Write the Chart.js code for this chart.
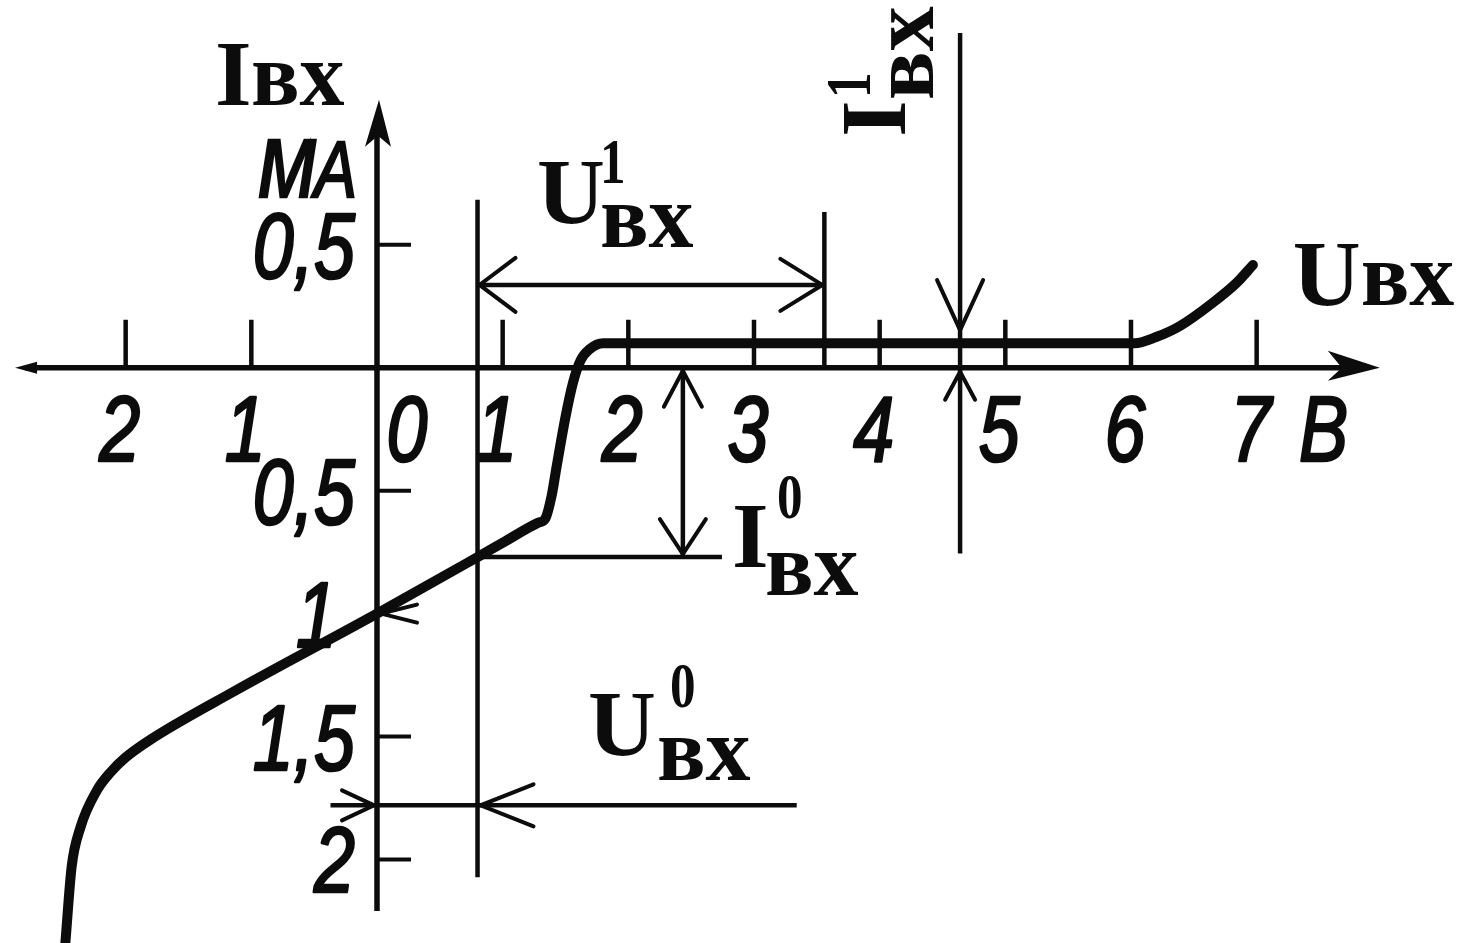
<!DOCTYPE html>
<html>
<head>
<meta charset="utf-8">
<script src="https://cdn.jsdelivr.net/npm/chart.js@4.4.1/dist/chart.umd.min.js"></script>
<style>
  html, body { margin: 0; padding: 0; background: #ffffff; }
  #wrap { width: 1464px; height: 943px; position: relative; }
</style>
</head>
<body>
<div id="wrap"><canvas id="chart"></canvas></div>
<script>
// Input characteristic of a TTL gate: input current Iвх (mA) against input voltage Uвх (V)
const inputVoltage = [-2.48, -2.43, -2.36, -2.23, -2.12, -2.00, -1.81, -1.15, 0.00, 0.80, 1.03, 1.28, 1.34, 1.39, 1.43, 1.50, 1.56, 1.62, 1.69, 1.80, 3.00, 4.64, 6.03, 6.20, 6.39, 6.65, 6.84, 6.97];
const inputCurrent = [-2.34, -2.03, -1.87, -1.72, -1.645, -1.585, -1.515, -1.32, -1.00, -0.77, -0.703, -0.631, -0.613, -0.52, -0.40, -0.20, -0.06, 0.03, 0.075, 0.10, 0.10, 0.10, 0.10, 0.125, 0.17, 0.264, 0.345, 0.418];

// Axis ticks and their printed labels (magnitudes only, as on the drawing)
const xTickValues = [-2, -1, 0, 1, 2, 3, 4, 5, 6, 7];
const xTickLabels = ['2', '1', '0', '1', '2', '3', '4', '5', '6', '7'];
const yTickValues = [0.5, -0.5, -1.5, -2];
const yLabelValues = [0.5, -0.5, -1, -1.5, -2];
const yLabelTexts = ['0,5', '0,5', '1', '1,5', '2'];

// Characteristic levels marked by the dimension lines
const levelVoltages = [0.8, 3.56, 4.64];   // U⁰вх, upper end of U¹вх, point where I¹вх is read
const levelCurrents = [-0.77, 0.10];       // I⁰вх, I¹вх

const U0 = levelVoltages[0], U1 = levelVoltages[1], UI1 = levelVoltages[2];
const I0 = levelCurrents[0], I1 = levelCurrents[1];

// Layout of the dimension lines (in axis units)
const guide = {
  u1LineI: 0.337,        // height of the U¹вх dimension line
  u0LineI: -1.78,        // height of the U⁰вх dimension line
  i0ArrowU: 2.434,       // where the I⁰вх arrow stands
  u0LineEnd: 3.34,
  i0LineEnd: 2.745,
  vU0Top: 0.683, vU0Bottom: -2.073,
  vU1Top: 0.634,
  vI1Top: 1.362, vI1Bottom: -0.756,
  u0StubStart: -0.37
};

const seg = (a, b) => [{ x: a[0], y: a[1] }, { x: b[0], y: b[1] }];
const guideLines = [
  seg([U0, guide.vU0Top], [U0, guide.vU0Bottom]),
  seg([U1, guide.vU1Top], [U1, 0]),
  seg([UI1, guide.vI1Top], [UI1, guide.vI1Bottom]),
  seg([U0, guide.u1LineI], [U1, guide.u1LineI]),
  seg([U0, I0], [guide.i0LineEnd, I0]),
  seg([guide.i0ArrowU, 0], [guide.i0ArrowU, I0]),
  seg([0, guide.u0LineI], [guide.u0LineEnd, guide.u0LineI]),
  seg([guide.u0StubStart, guide.u0LineI], [0, guide.u0LineI])
];

const INK = '#0c0c0c';
const numFont = (size) => `italic ${size}px 'Liberation Sans', 'DejaVu Sans', sans-serif`;
const serif = (size) => `bold ${size}px 'Liberation Serif', 'DejaVu Serif', serif`;

function openArrow(ctx, x, y, angle, len, spread, width) {
  const bx = -Math.cos(angle), by = -Math.sin(angle);
  const nx = -Math.sin(angle), ny = Math.cos(angle);
  ctx.save();
  ctx.strokeStyle = INK;
  ctx.lineWidth = width || 4;
  ctx.lineCap = 'round';
  ctx.beginPath();
  ctx.moveTo(x + len * bx + spread * nx, y + len * by + spread * ny);
  ctx.lineTo(x, y);
  ctx.lineTo(x + len * bx - spread * nx, y + len * by - spread * ny);
  ctx.stroke();
  ctx.restore();
}

// hand-lettered looking numerals: condensed italic with a slightly heavier stroke
function italicText(ctx, text, x, y, size, align) {
  ctx.save();
  ctx.translate(x, y);
  ctx.scale(0.8, 1);
  ctx.font = numFont(size);
  ctx.textAlign = align || 'center';
  ctx.textBaseline = 'alphabetic';
  ctx.fillStyle = INK;
  ctx.strokeStyle = INK;
  ctx.lineWidth = 2.6;
  ctx.lineJoin = 'round';
  ctx.fillText(text, 0, 0);
  ctx.strokeText(text, 0, 0);
  ctx.restore();
}

// main letter with optional superscript index and subscript "вх"
function symbol(ctx, x, y, s) {
  ctx.save();
  ctx.translate(x, y);
  if (s.rotate) ctx.rotate(s.rotate);
  ctx.fillStyle = INK;
  ctx.textAlign = 'left';
  ctx.textBaseline = 'alphabetic';
  ctx.font = serif(94);
  ctx.fillText(s.main, 0, 0);
  if (s.sup) {
    ctx.save();
    ctx.translate(s.supDx, s.supDy);
    ctx.scale(0.8, 1);
    ctx.font = serif(64);
    ctx.fillText(s.sup, 0, 0);
    ctx.restore();
  }
  ctx.font = serif(90);
  ctx.fillText(s.sub, s.subDx, s.subDy);
  ctx.restore();
}

const diagram = {
  id: 'diagram',
  beforeDatasetsDraw(chart) {
    const ctx = chart.ctx;
    const xs = chart.scales.x, ys = chart.scales.y;
    const X = (v) => xs.getPixelForValue(v), Y = (v) => ys.getPixelForValue(v);
    const x0 = X(0), y0 = Y(0);
    ctx.save();
    ctx.strokeStyle = INK;
    ctx.fillStyle = INK;
    ctx.lineCap = 'butt';

    // horizontal axis
    const xLeft = X(-2.88), xRight = X(7.98);
    ctx.lineWidth = 5.5;
    ctx.beginPath();
    ctx.moveTo(xLeft + 10, y0);
    ctx.lineTo(xRight - 30, y0);
    ctx.stroke();
    ctx.beginPath();
    ctx.moveTo(xRight, y0);
    ctx.lineTo(xRight - 52, y0 - 17);
    ctx.lineTo(xRight - 38, y0);
    ctx.lineTo(xRight - 52, y0 + 13);
    ctx.closePath();
    ctx.fill();
    ctx.beginPath();
    ctx.moveTo(xLeft, y0);
    ctx.lineTo(xLeft + 22, y0 - 6);
    ctx.lineTo(xLeft + 22, y0 + 6);
    ctx.closePath();
    ctx.fill();

    // vertical axis
    const yTop = Y(1.09), yBottom = Y(-2.21);
    ctx.lineWidth = 5.5;
    ctx.beginPath();
    ctx.moveTo(x0, yBottom);
    ctx.lineTo(x0, yTop + 30);
    ctx.stroke();
    ctx.beginPath();
    ctx.moveTo(x0 + 2, yTop);
    ctx.lineTo(x0 + 14, yTop + 47);
    ctx.lineTo(x0 + 1, yTop + 36);
    ctx.lineTo(x0 - 12, yTop + 47);
    ctx.closePath();
    ctx.fill();

    // tick marks
    ctx.lineWidth = 4.5;
    xTickValues.forEach((v) => {
      if (v === 0) return;
      ctx.beginPath();
      ctx.moveTo(X(v), y0);
      ctx.lineTo(X(v), y0 - 48);
      ctx.stroke();
    });
    ctx.lineWidth = 4;
    yTickValues.forEach((v) => {
      ctx.beginPath();
      ctx.moveTo(x0, Y(v));
      ctx.lineTo(x0 + 34, Y(v));
      ctx.stroke();
    });
    ctx.restore();

    // tick labels
    xTickValues.forEach((v, k) => {
      const dx = v === 0 ? 30 : -6;
      italicText(ctx, xTickLabels[k], X(v) + dx, y0 + 93, 92, 'center');
    });
    italicText(ctx, 'В', X(7.5) + 4, y0 + 93, 92, 'center');
    yLabelValues.forEach((v, k) => {
      const dx = yLabelTexts[k] === '1' ? -40 : -22;
      italicText(ctx, yLabelTexts[k], x0 + dx, Y(v) + 33, 92, 'right');
    });

    // unit of the current axis
    ctx.save();
    ctx.translate(x0 - 20, Y(0.695));
    ctx.scale(0.8, 1);
    ctx.fillStyle = INK;
    ctx.strokeStyle = INK;
    ctx.lineWidth = 2.4;
    ctx.textAlign = 'right';
    ctx.font = numFont(80);
    ctx.fillText('А', 0, 0);
    ctx.strokeText('А', 0, 0);
    const aw = ctx.measureText('А').width;
    ctx.font = numFont(108);
    ctx.fillText('м', -aw + 4, 0);
    ctx.strokeText('м', -aw + 4, 0);
    ctx.restore();
  },
  afterDatasetsDraw(chart) {
    const ctx = chart.ctx;
    const xs = chart.scales.x, ys = chart.scales.y;
    const X = (v) => xs.getPixelForValue(v), Y = (v) => ys.getPixelForValue(v);
    const x0 = X(0), y0 = Y(0);
    const L = 0, R = Math.PI, D = Math.PI / 2, Up = -Math.PI / 2;

    // U¹вх dimension
    openArrow(ctx, X(U0) + 2, Y(guide.u1LineI), R, 36, 27);
    openArrow(ctx, X(U1) - 2, Y(guide.u1LineI), L, 42, 26);
    // I¹вх dimension
    openArrow(ctx, X(UI1), Y(I1) - 13, D, 50, 23);
    openArrow(ctx, X(UI1), y0 + 4, Up, 28, 15);
    // I⁰вх dimension
    openArrow(ctx, X(guide.i0ArrowU), y0 + 3, Up, 36, 19);
    openArrow(ctx, X(guide.i0ArrowU), Y(I0) - 3, D, 35, 23);
    // U⁰вх dimension
    openArrow(ctx, x0 - 3, Y(guide.u0LineI), L, 32, 15);
    openArrow(ctx, X(U0) + 3, Y(guide.u0LineI), R, 53, 21);
    // current at zero input voltage
    openArrow(ctx, x0 + 4, Y(-1), R, 36, 9);

    // symbols
    symbol(ctx, X(-1.289), Y(1.069), { main: 'I', sub: 'вх', subDx: 36, subDy: 0 });
    symbol(ctx, X(7.287), Y(0.256), { main: 'U', sub: 'вх', subDx: 68, subDy: 0 });
    symbol(ctx, X(1.273), Y(0.589), { main: 'U', sup: '1', supDx: 63, supDy: -40, sub: 'вх', subDx: 63, subDy: 24 });
    symbol(ctx, X(2.825), Y(-0.810), { main: 'I', sup: '0', supDx: 45, supDy: -49, sub: 'вх', subDx: 33, subDy: 28 });
    symbol(ctx, X(1.679), Y(-1.574), { main: 'U', sup: '0', supDx: 82, supDy: -48, sub: 'вх', subDx: 69, subDy: 25 });
    symbol(ctx, X(4.201), Y(0.939), { main: 'I', sup: '1', supDx: 39, supDy: -35, sub: 'вх', subDx: 37, subDy: 28, rotate: -Math.PI / 2 });
  }
};

const guideDatasets = guideLines.map((pts) => ({
  data: pts,
  borderColor: INK,
  borderWidth: 4.5,
  pointRadius: 0,
  tension: 0,
  fill: false,
  borderCapStyle: 'butt'
}));

new Chart(document.getElementById('chart'), {
  type: 'line',
  data: {
    datasets: [{
      data: inputVoltage.map((u, k) => ({ x: u, y: inputCurrent[k] })),
      borderColor: INK,
      borderWidth: 10,
      pointRadius: 0,
      cubicInterpolationMode: 'monotone',
      borderCapStyle: 'round',
      borderJoinStyle: 'round',
      fill: false
    }].concat(guideDatasets)
  },
  options: {
    responsive: true,
    maintainAspectRatio: false,
    animation: false,
    events: [],
    layout: { padding: 0 },
    plugins: { legend: { display: false }, tooltip: { enabled: false } },
    scales: {
      x: { type: 'linear', min: -3, max: 8.65, display: false },
      y: { type: 'linear', min: -2.34, max: 1.496, display: false }
    }
  },
  plugins: [diagram]
});
</script>
</body>
</html>
